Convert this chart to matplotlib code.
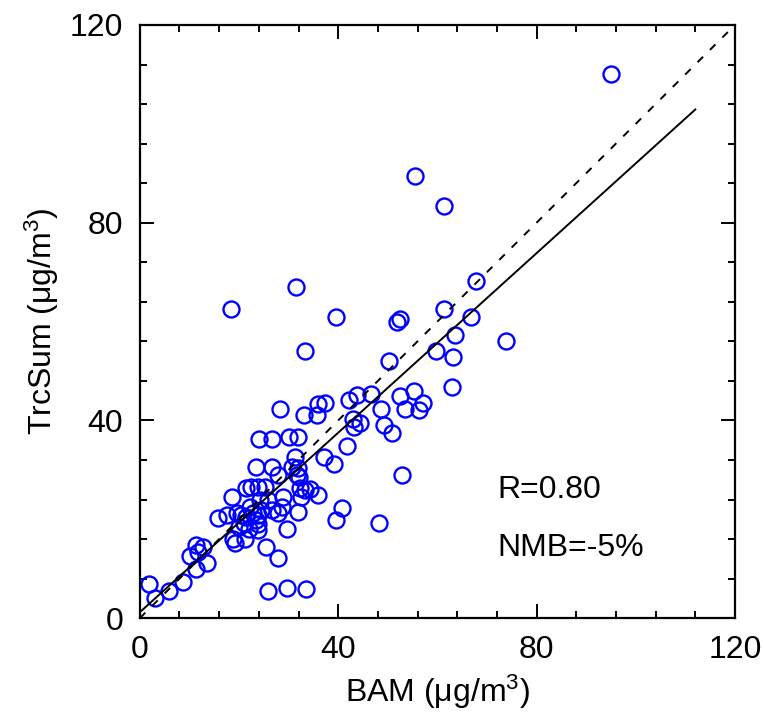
import matplotlib
matplotlib.use("Agg")
import matplotlib.pyplot as plt
from matplotlib.ticker import MultipleLocator

plt.rcParams['font.family'] = ['Liberation Sans', 'DejaVu Sans']
plt.rcParams['mathtext.default'] = 'regular'

# BAM vs TrcSum (ug/m3)
bam = [95.0, 55.4, 61.3, 31.4, 18.3, 67.7, 61.3, 39.5, 51.8, 52.4,
       66.7, 63.5, 73.8, 59.7, 63.2, 50.2, 33.3, 62.9, 55.3, 52.4,
       57.1, 53.4, 56.3, 48.7, 49.3, 50.8, 42.2, 43.7, 46.7, 43.0,
       44.4, 43.2, 41.7, 52.9, 48.3, 40.8, 39.5, 28.2, 33.1, 35.8,
       36.0, 37.3, 24.0, 26.6, 30.1, 31.9, 31.3, 37.1, 39.2, 23.5,
       26.6, 27.8, 30.6, 31.9, 31.6, 32.1, 18.5, 21.5, 22.5, 23.9,
       25.2, 28.8, 32.3, 33.3, 34.3, 36.0, 32.6, 31.9, 15.8, 17.5,
       19.5, 20.5, 21.5, 22.9, 22.2, 24.2, 24.5, 23.9, 23.5, 23.9,
       25.9, 26.6, 27.9, 28.6, 29.6, 23.9, 25.4, 27.9, 18.8, 19.2,
       21.2, 11.4, 12.8, 11.8, 10.1, 11.3, 13.6, 8.7, 5.9, 1.9,
       3.0, 25.9, 29.6, 33.5, 20.0, 21.0, 22.0]
trcsum = [110.1, 89.5, 83.3, 66.9, 62.5, 68.3, 62.6, 61.0, 60.0, 60.5,
          61.0, 57.3, 56.1, 54.1, 52.9, 52.1, 54.1, 46.8, 46.0, 44.9,
          43.6, 42.4, 42.2, 42.4, 39.1, 37.5, 44.1, 45.1, 45.3, 40.2,
          39.5, 38.7, 34.8, 28.9, 19.3, 22.2, 19.8, 42.4, 41.1, 41.1,
          43.3, 43.5, 36.3, 36.3, 36.7, 36.7, 32.7, 32.7, 31.1, 30.5,
          30.5, 28.9, 30.6, 30.3, 28.9, 28.5, 24.6, 26.3, 26.5, 26.6,
          26.6, 24.6, 26.3, 25.9, 26.1, 24.9, 24.6, 21.5, 20.2, 20.9,
          21.2, 20.9, 20.5, 21.2, 22.5, 23.9, 21.9, 20.9, 19.8, 19.0,
          23.9, 21.9, 21.2, 22.4, 18.0, 17.8, 14.4, 12.2, 16.1, 15.2,
          16.1, 14.8, 14.3, 13.4, 12.6, 9.9, 11.1, 7.3, 5.5, 7.0,
          4.0, 5.5, 6.1, 5.9, 18.5, 19.2, 18.0]

slope = 0.908
intercept = 1.2
fit_x = [0, 112]
one_x = [0, 120]

fig = plt.figure(figsize=(7.64, 7.13), dpi=100)
ax = fig.add_axes([0.183, 0.133, 0.779, 0.832])

ax.plot(bam, trcsum, 'o', mfc='none', mec='blue', ms=11.5, mew=1.7)
ax.plot(one_x, one_x, '--', color='black', lw=1.4, dashes=(4, 5))
ax.plot(fit_x, [slope * x + intercept for x in fit_x], '-', color='black', lw=1.4)

ax.set_xlim(0, 120)
ax.set_ylim(0, 120)
ax.xaxis.set_major_locator(MultipleLocator(40))
ax.yaxis.set_major_locator(MultipleLocator(40))
ax.xaxis.set_minor_locator(MultipleLocator(8))
ax.yaxis.set_minor_locator(MultipleLocator(8))
ax.tick_params(which='both', direction='in', top=True, right=True, width=1.4)
ax.tick_params(which='major', length=10, labelsize=23, pad=12)
ax.tick_params(which='minor', length=5)
for s in ax.spines.values():
    s.set_linewidth(1.6)

ax.set_xlabel('BAM (μg/m$^3$)', fontsize=23, labelpad=6)
ax.set_ylabel('TrcSum (μg/m$^3$)', fontsize=23, labelpad=6)

ax.text(72, 25.9, 'R=0.80', fontsize=23, va='center')
ax.text(72, 14.2, 'NMB=-5%', fontsize=23, va='center')

fig.savefig('out.png', dpi=100)
